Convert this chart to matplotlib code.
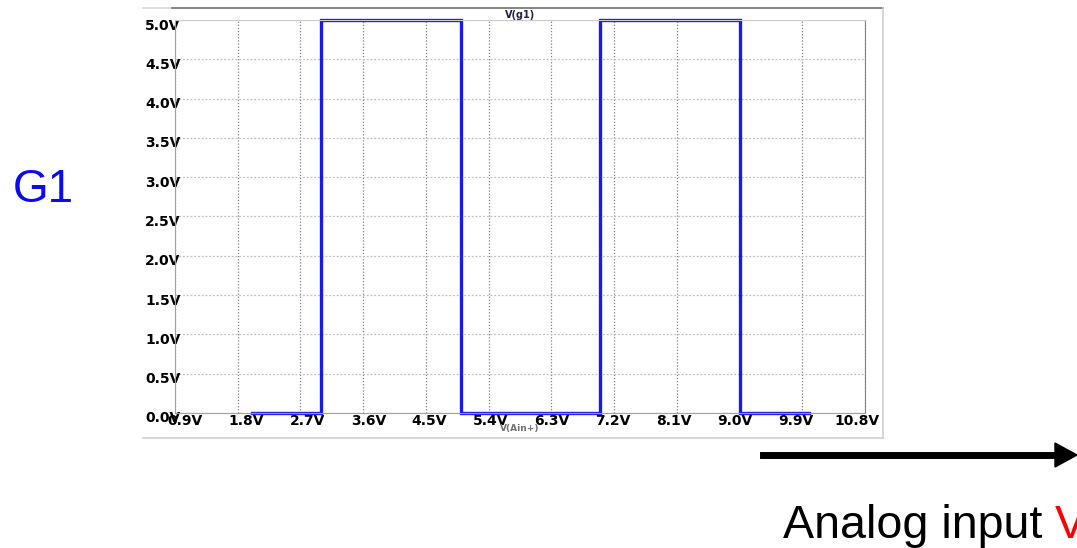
import matplotlib.pyplot as plt
from matplotlib.lines import Line2D
from matplotlib.transforms import ScaledTranslation

# sweep of V(Ain+) and the resulting V(g1)
vin = [2.0, 3.0, 3.0, 5.0, 5.0, 7.0, 7.0, 9.0, 9.0, 10.0]
vg1 = [0.0, 0.0, 5.0, 5.0, 0.0, 0.0, 5.0, 5.0, 0.0, 0.0]

x_ticks = [0.9, 1.8, 2.7, 3.6, 4.5, 5.4, 6.3, 7.2, 8.1, 9.0, 9.9, 10.8]
y_ticks = [0.0, 0.5, 1.0, 1.5, 2.0, 2.5, 3.0, 3.5, 4.0, 4.5, 5.0]

W, H = 1077, 548
fig = plt.figure(figsize=(W / 100, H / 100), dpi=100)

# plot box in pixels: left 175, right 865, top 20, bottom 413
ax = fig.add_axes([175 / W, 1 - 413 / H, (865 - 175) / W, (413 - 20) / H])
ax.plot(vin, vg1, color='#1a1ae8', linewidth=2.4, solid_joinstyle='miter', clip_on=False)

ax.set_xlim(0.9, 10.8)
ax.set_ylim(0.0, 5.0)
ax.set_xticks(x_ticks)
ax.set_yticks(y_ticks)
ax.set_xticklabels(['%.1fV' % v for v in x_ticks], fontsize=10, fontweight='bold')
ax.set_yticklabels(['%.1fV' % v for v in y_ticks], fontsize=10, fontweight='bold')
ax.tick_params(axis='both', length=0)
ax.tick_params(axis='x', pad=1)
ax.tick_params(axis='y', pad=-4)

# labels in the original drift a bit from their grid lines
n = len(x_ticks)
for i, lbl in enumerate(ax.get_xticklabels()):
    dx = (10 - 18 * i / (n - 1)) / 100
    lbl.set_transform(lbl.get_transform() + ScaledTranslation(dx, 0, fig.dpi_scale_trans))
for lbl in ax.get_yticklabels():
    lbl.set_transform(lbl.get_transform() + ScaledTranslation(0, -0.04, fig.dpi_scale_trans))

ax.xaxis.grid(True, linestyle=(0, (1, 1.5)), color='#808080', linewidth=0.9)
ax.yaxis.grid(True, linestyle=(0, (1.5, 1.5)), color='#c0c0c0', linewidth=0.9)
ax.spines['left'].set_color('#a0a0a0')
ax.spines['bottom'].set_color('#a0a0a0')
ax.spines['top'].set_color('#cccccc')
ax.spines['right'].set_color('#808080')

ax.set_title('V(g1)', fontsize=7, fontweight='bold', color='#202040', pad=1)
ax.set_xlabel('V(Ain+)', fontsize=6.5, fontweight='bold', color='#707070', labelpad=-3)

# outer frame of the simulator window
def fline(x0, y0, x1, y1, color, lw=1.2):
    fig.add_artist(Line2D([x0 / W, x1 / W], [1 - y0 / H, 1 - y1 / H], color=color, linewidth=lw))

fline(143, 8, 172, 8, '#d8d8d8')
fline(172, 8, 883, 8, '#707070')
fline(883, 8, 883, 438, '#d0d0d0')
fline(143, 438, 883, 438, '#d0d0d0')

fig.text(13 / W, 1 - 190 / H, 'G1', color='#0a0aee', fontsize=33,
         family='Liberation Sans', va='center', ha='left')

# arrow and axis caption
fig.add_artist(plt.Line2D([763 / W, 1060 / W], [1 - 455 / H, 1 - 455 / H], color='black', linewidth=5))
fig.patches.append(plt.Polygon([[1055 / W, 1 - 443 / H], [1077 / W, 1 - 455 / H], [1055 / W, 1 - 467 / H]],
                               closed=True, color='black', transform=fig.transFigure, figure=fig))
fig.text(783 / W, 1 - 538 / H, 'Analog input ', color='black', fontsize=33.6,
         family='Liberation Sans', va='baseline', ha='left')
fig.text(1055 / W, 1 - 538 / H, 'V', color='#ff0000', fontsize=33.6,
         family='Liberation Sans', va='baseline', ha='left')

fig.savefig('out.png', dpi=100)
